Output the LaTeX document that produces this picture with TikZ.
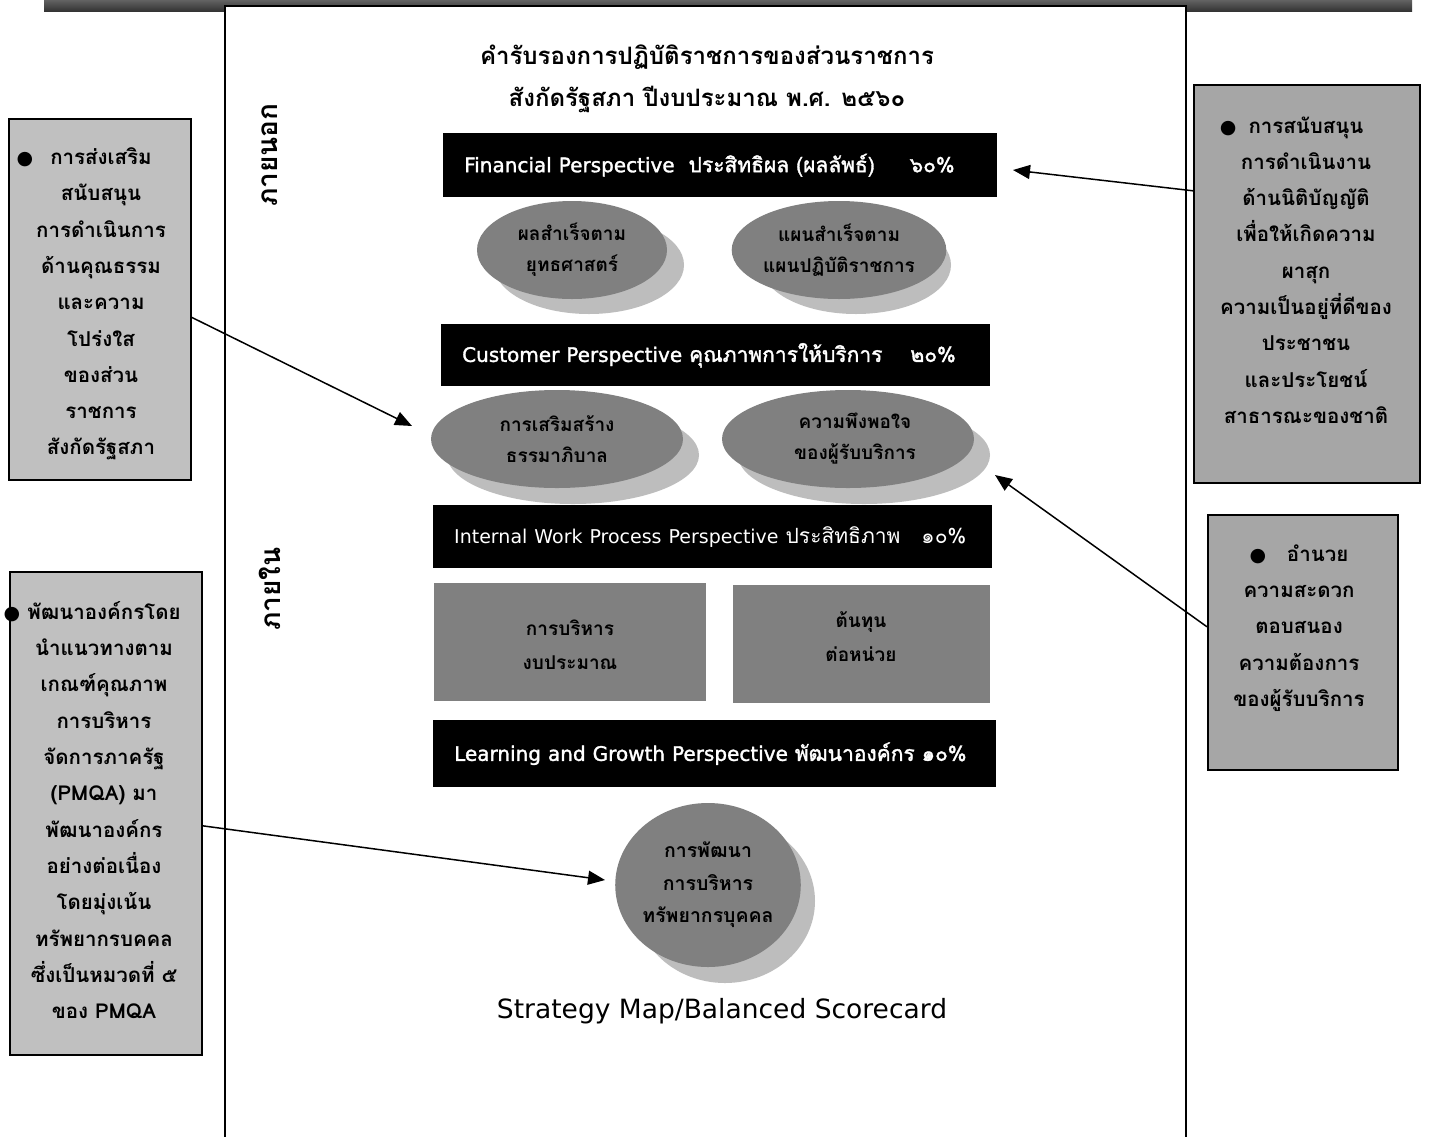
\documentclass[tikz,border=0pt]{standalone}
\usepackage{fontspec}
\setmainfont[Script=Thai]{Loma}
\newfontfamily\thaisemi[Script=Thai,FakeBold=1.6]{Loma}
\newfontfamily\symfont{DejaVu Sans}
\newfontfamily\lat{DejaVu Sans}
\newfontfamily\latsemi[FakeBold=1.6]{DejaVu Sans}
\usetikzlibrary{arrows.meta,shapes.geometric,calc}
\definecolor{leftgray}{HTML}{C0C0C0}
\definecolor{rightgray}{HTML}{A6A6A6}
\definecolor{midgray}{HTML}{808080}
\definecolor{shadowgray}{HTML}{BDBDBD}
\newcommand{\bul}{{\symfont\fontsize{19}{19}\selectfont ●}}
\newcommand{\hbul}[1]{\makebox[0pt][r]{\bul\hspace{#1}}}
\begin{document}
\begin{tikzpicture}[x=1pt,y=-1pt,
  persp/.style={fill=black, text=white, anchor=north west, inner xsep=21pt, inner ysep=0pt, align=left, font=\thaisemi\fontsize{21}{24}\selectfont},
  sidebox/.style={draw=black, line width=1.6pt, anchor=north west, inner sep=0pt},
  sidetext/.style={align=center, font=\bfseries\fontsize{20.5}{36.3}\selectfont},
  shadowell/.style={ellipse, fill=shadowgray, inner sep=0pt},
  mainell/.style={ellipse, fill=midgray, inner sep=0pt, align=center, font=\bfseries\fontsize{19}{31}\selectfont},
  grayrect/.style={fill=midgray, anchor=north west, inner sep=0pt},
  graytext/.style={align=center, font=\bfseries\fontsize{19}{34}\selectfont},
  arr/.style={line width=1.5pt, -{Triangle[length=17pt,width=14pt]}}]
\useasboundingbox (0,0) rectangle (1429,1136);
\fill[white] (0,0) rectangle (1429,1136);
% top bar
\node[top color=black!62, bottom color=black!80, minimum width=1368pt, minimum height=11pt, anchor=north west, inner sep=0pt] (topbar) at (44,0) {};
% central panel
\node[draw=black, line width=2pt, fill=white, minimum width=961pt, minimum height=1150pt, anchor=north west, inner sep=0pt] (panel) at (224,5) {};
% title
\node[align=center, font=\bfseries\fontsize{24}{42}\selectfont] (title) at (707,79) {คำรับรองการปฏิบัติราชการของส่วนราชการ\\สังกัดรัฐสภา ปีงบประมาณ พ.ศ. ๒๕๖๐};
% side labels
\node[rotate=90, font=\bfseries\fontsize{28}{28}\selectfont] (outside) at (270,155) {ภายนอก};
\node[rotate=90, font=\bfseries\fontsize{28}{28}\selectfont] (inside) at (270,589) {ภายใน};
% perspective bars
\node[persp, minimum width=554pt, minimum height=64pt, text width=512pt] (fin) at (443,133) {{\latsemi\fontsize{20}{24}\selectfont Financial Perspective}\ \ ประสิทธิผล (ผลลัพธ์)\ \ \ \ \ ๖๐\%};
\node[persp, minimum width=549pt, minimum height=62pt, text width=507pt] (cus) at (441,324) {{\latsemi\fontsize{20}{24}\selectfont Customer Perspective} คุณภาพการให้บริการ\ \ \ \ ๒๐\%};
\node[persp, minimum width=559pt, minimum height=63pt, text width=517pt, font=\fontsize{21}{24}\selectfont] (int) at (433,505) {{\lat\fontsize{19}{24}\selectfont Internal Work Process Perspective} ประสิทธิภาพ\ \ \ ๑๐\%};
\node[persp, minimum width=563pt, minimum height=67pt, text width=521pt] (lrn) at (433,720) {{\latsemi\fontsize{20}{24}\selectfont Learning and Growth Perspective} พัฒนาองค์กร ๑๐\%};
% ellipses row 1
\node[shadowell, minimum width=190pt, minimum height=98pt] (eAs) at (589,265) {};
\node[mainell, minimum width=190pt, minimum height=98pt] (eA) at (572,250) {ผลสำเร็จตาม\\ยุทธศาสตร์};
\node[shadowell, minimum width=190pt, minimum height=98pt] (eBs) at (856,265) {};
\node[mainell, minimum width=190pt, minimum height=98pt] (eB) at (839,250) {แผนสำเร็จตาม\\แผนปฏิบัติราชการ};
% ellipses row 2
\node[shadowell, minimum width=252pt, minimum height=98pt] (eCs) at (573,455) {};
\node[mainell, minimum width=252pt, minimum height=98pt] (eC) at (557,439) {การเสริมสร้าง\\ธรรมาภิบาล};
\node[shadowell, minimum width=252pt, minimum height=98pt] (eDs) at (864,455) {};
\node[mainell, minimum width=252pt, minimum height=98pt] (eD) at (848,439) {\hspace*{14pt}ความพึงพอใจ\\\hspace*{14pt}ของผู้รับบริการ};
% gray rectangles
\node[grayrect, minimum width=272pt, minimum height=118pt] (rA) at (434,583) {};
\node[graytext] (rAt) at (570,645) {การบริหาร\\งบประมาณ};
\node[grayrect, minimum width=257pt, minimum height=118pt] (rB) at (733,585) {};
\node[graytext] (rBt) at (861,637) {ต้นทุน\\ต่อหน่วย};
% circle
\node[shadowell, minimum width=180pt, minimum height=164pt] (eEs) at (725,901) {};
\node[mainell, minimum width=180pt, minimum height=164pt, font=\bfseries\fontsize{19.5}{32.5}\selectfont] (eE) at (708,885) {การพัฒนา\\การบริหาร\\ทรัพยากรบุคคล};
% caption
\node[font=\lat\fontsize{26.5}{30}\selectfont] (cap) at (722,1011) {Strategy Map/Balanced Scorecard};
% side boxes
\node[sidebox, fill=leftgray, minimum width=182pt, minimum height=361pt] (lb1) at (8,118) {};
\node[sidetext] (lb1t) at (101,304) {\hbul{17pt}การส่งเสริม\\สนับสนุน\\การดำเนินการ\\ด้านคุณธรรม\\และความ\\โปร่งใส\\ของส่วน\\ราชการ\\สังกัดรัฐสภา};
\node[sidebox, fill=leftgray, minimum width=192pt, minimum height=483pt] (lb2) at (9,571) {};
\node[sidetext] (lb2t) at (104,810) {\hbul{7pt}พัฒนาองค์กรโดย\\นำแนวทางตาม\\เกณฑ์คุณภาพ\\การบริหาร\\จัดการภาครัฐ\\(PMQA) มา\\พัฒนาองค์กร\\อย่างต่อเนื่อง\\โดยมุ่งเน้น\\ทรัพยากรบคคล\\ซึ่งเป็นหมวดที่ ๕\\ของ PMQA};
\node[sidebox, fill=rightgray, minimum width=226pt, minimum height=398pt] (rb1) at (1193,84) {};
\node[sidetext] (rb1t) at (1306,270) {\hbul{12pt}การสนับสนุน\\การดำเนินงาน\\ด้านนิติบัญญัติ\\เพื่อให้เกิดความ\\ผาสุก\\ความเป็นอยู่ที่ดีของ\\ประชาชน\\และประโยชน์\\สาธารณะของชาติ};
\node[sidebox, fill=rightgray, minimum width=190pt, minimum height=255pt] (rb2) at (1207,514) {};
\node[sidetext] (rb2t) at (1299,628) {\bul\ \ \ อำนวย\\ความสะดวก\\ตอบสนอง\\ความต้องการ\\ของผู้รับบริการ};
% arrow tips
\coordinate (t1) at (412,426);
\coordinate (t2) at (1013,170);
\coordinate (t3) at (995,475);
\coordinate (t4) at (605,880);
\draw[arr] ($(lb1.east)+(0,18)$) -- (t1);
\draw[arr] ($(rb1.west)+(0,-93)$) -- (t2);
\draw[arr] ($(rb2.west)+(0,-15.5)$) -- (t3);
\draw[arr] ($(lb2.east)+(0,12.5)$) -- (t4);
\end{tikzpicture}
\end{document}
